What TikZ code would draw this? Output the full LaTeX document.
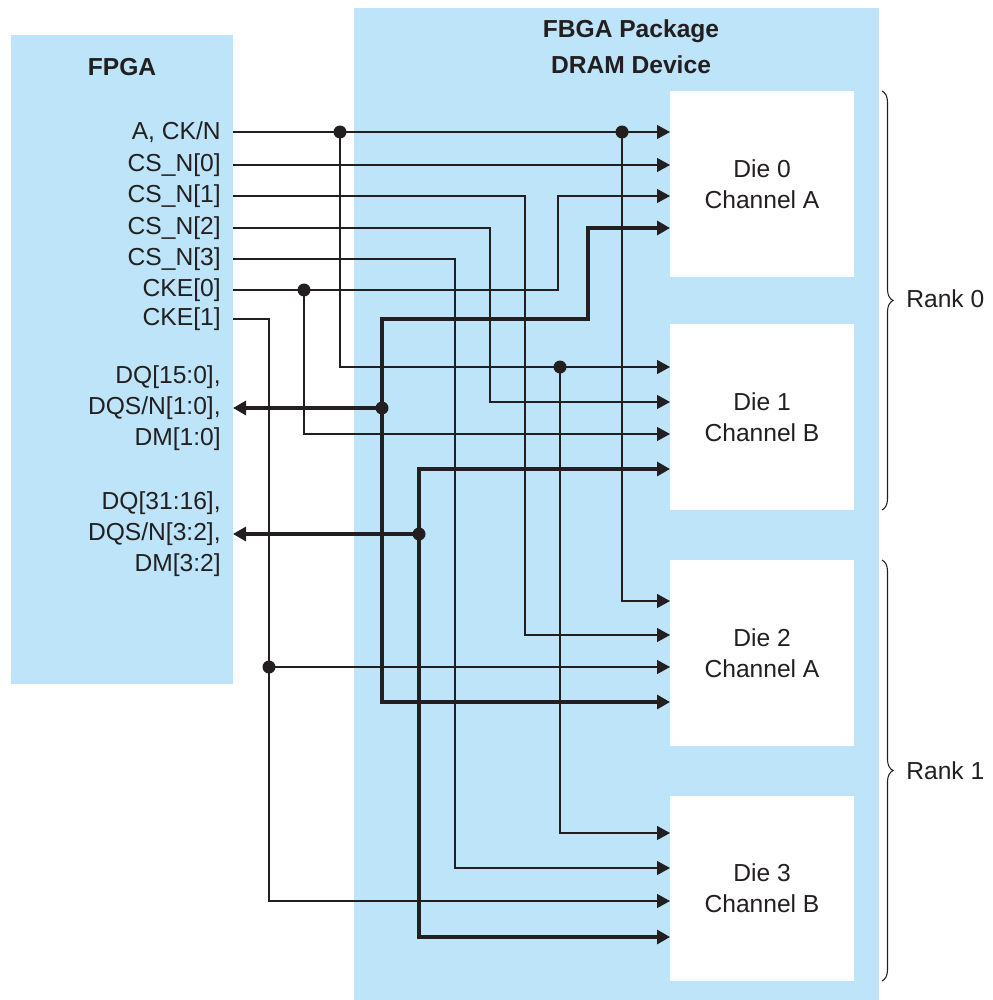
\documentclass[tikz,border=0pt]{standalone}
\usepackage{fontspec}
\setmainfont{Liberation Sans}
\usetikzlibrary{arrows.meta,decorations.pathreplacing}
\definecolor{pkgblue}{RGB}{189,228,248}
\definecolor{ink}{RGB}{35,31,32}

\begin{document}
\begin{tikzpicture}[
  x=0.02cm, y=-0.02cm,
  every node/.style={text=ink, font=\fontsize{14}{17.6}\selectfont},
  panel/.style={fill=pkgblue, inner sep=0pt},
  die/.style={fill=white, inner sep=0pt, minimum width=3.68cm, minimum height=3.72cm, align=center},
  pin/.style={anchor=east, align=right, inner sep=0pt},
  title/.style={align=center, font=\bfseries\fontsize{14}{20.5}\selectfont},
  sig/.style={draw=ink, line width=0.75pt},
  bus/.style={draw=ink, line width=1.8pt},
  tip/.style={-{Triangle[length=0.26cm, width=0.28cm]}},
  dot/.style={circle, fill=ink, inner sep=0pt, minimum size=0.26cm},
  rank/.style={draw=ink, line width=0.6pt, decorate, decoration={brace, amplitude=0.22cm}}
]
\useasboundingbox (0,0) rectangle (993,1000);

% FPGA and package
\node[panel, minimum width=4.44cm, minimum height=12.98cm] (fpga) at (122,359.5) {};
\node[panel, minimum width=10.5cm, minimum height=19.84cm] (pkg) at (616.5,504) {};
\node[title] (fpgatitle) at (122,67) {FPGA};
\node[title] (pkgtitle) at (631,47) {FBGA Package\\DRAM Device};

% Dies
\node[die] (die0) at (762,184) {Die 0\\Channel A};
\node[die] (die1) at (762,417) {Die 1\\Channel B};
\node[die] (die2) at (762,653) {Die 2\\Channel A};
\node[die] (die3) at (762,888.5) {Die 3\\Channel B};

% Pin labels
\node[pin] (lck) at (221,132) {A, CK/N};
\node[pin] (lcs0) at (221,165) {CS\_N[0]};
\node[pin] (lcs1) at (221,196) {CS\_N[1]};
\node[pin] (lcs2) at (221,228) {CS\_N[2]};
\node[pin] (lcs3) at (221,259) {CS\_N[3]};
\node[pin] (lcke0) at (221,290) {CKE[0]};
\node[pin] (lcke1) at (221,319) {CKE[1]};
\node[pin] (ldq0) at (221,408) {DQ[15:0],\\DQS/N[1:0],\\DM[1:0]};
\node[pin] (ldq1) at (221,534) {DQ[31:16],\\DQS/N[3:2],\\DM[3:2]};

% Pins on the FPGA edge
\coordinate (pck) at (233,132);
\coordinate (pcs0) at (233,165);
\coordinate (pcs1) at (233,196);
\coordinate (pcs2) at (233,228);
\coordinate (pcs3) at (233,259);
\coordinate (pcke0) at (233,290);
\coordinate (pcke1) at (233,319);
\coordinate (pdq0) at (233,408);
\coordinate (pdq1) at (233,534);

% Die inputs
\coordinate (in0a) at (670,132); \coordinate (in0b) at (670,165);
\coordinate (in0c) at (670,196); \coordinate (in0d) at (670,228);
\coordinate (in1a) at (670,367); \coordinate (in1b) at (670,402);
\coordinate (in1c) at (670,434); \coordinate (in1d) at (670,469);
\coordinate (in2a) at (670,601); \coordinate (in2b) at (670,635);
\coordinate (in2c) at (670,667); \coordinate (in2d) at (670,702);
\coordinate (in3a) at (670,833); \coordinate (in3b) at (670,868);
\coordinate (in3c) at (670,901); \coordinate (in3d) at (670,937);

% Junctions
\node[dot] (jck1) at (340,132) {};
\node[dot] (jck2) at (622,132) {};
\node[dot] (jck3) at (560,367) {};
\node[dot] (jcke0) at (304,290) {};
\node[dot] (jcke1) at (269,667) {};
\node[dot] (jdq0) at (382,408) {};
\node[dot] (jdq1) at (419,534) {};

% Address, clock, chip select, clock enable
\draw[sig, tip] (pck) -- (in0a);
\draw[sig, tip] (jck1.center) |- (in1a);
\draw[sig, tip] (jck2.center) |- (in2a);
\draw[sig, tip] (jck3.center) |- (in3a);
\draw[sig, tip] (pcs0) -- (in0b);
\draw[sig, tip] (pcs1) -- (525,196) |- (in2b);
\draw[sig, tip] (pcs2) -- (490,228) |- (in1b);
\draw[sig, tip] (pcs3) -- (455,259) |- (in3b);
\draw[sig, tip] (pcke0) -- (558,290) |- (in0c);
\draw[sig, tip] (jcke0.center) |- (in1c);
\draw[sig, tip] (pcke1) -- (269,319) |- (in3c);
\draw[sig, tip] (jcke1.center) -- (in2c);

% Data buses
\draw[bus, tip] (jdq0.center) -- (382,319) -| (588,228) -- (in0d);
\draw[bus, tip] (jdq0.center) |- (in2d);
\draw[bus, tip] (jdq0.center) -- (pdq0);
\draw[bus, tip] (jdq1.center) -- (419,469) -- (in1d);
\draw[bus, tip] (jdq1.center) |- (in3d);
\draw[bus, tip] (jdq1.center) -- (pdq1);

% Ranks
\coordinate (r0top) at (882,91); \coordinate (r0bot) at (882,510);
\coordinate (r1top) at (882,560); \coordinate (r1bot) at (882,981);
\draw[rank] (r0top) -- (r0bot);
\draw[rank] (r1top) -- (r1bot);
\node[anchor=west, inner sep=0pt] (rank0) at (906,299) {Rank 0};
\node[anchor=west, inner sep=0pt] (rank1) at (906,771) {Rank 1};

\end{tikzpicture}
\end{document}
